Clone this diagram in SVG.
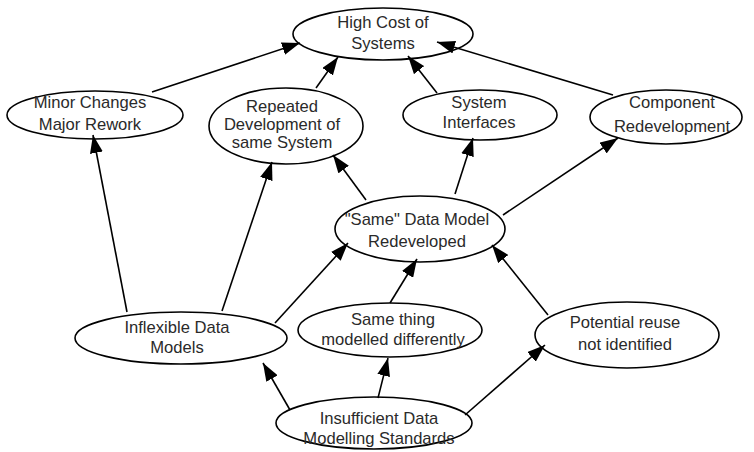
<svg xmlns="http://www.w3.org/2000/svg" width="754" height="452" viewBox="0 0 754 452">
<style>
.n ellipse{fill:#fff;stroke:#000;stroke-width:1.6}
.n text{font-family:"Liberation Sans",Arial,sans-serif;font-size:16.6px;fill:#2a2a2a;text-anchor:middle}
#edges line{stroke:#000;stroke-width:1.6;marker-end:url(#ah)}
</style>
<defs>
<marker id="ah" markerUnits="userSpaceOnUse" markerWidth="19" markerHeight="13" refX="18" refY="6.5" orient="auto">
<path d="M0,0 L18,6.5 L0,13 z" fill="#000"/>
</marker>
</defs>
<rect width="754" height="452" fill="#fff"/>
<g id="high-cost" class="n"><ellipse cx="383" cy="34" rx="90" ry="26"/><text x="383" y="28">High Cost of</text><text x="383" y="49">Systems</text></g>
<g id="minor-changes" class="n"><ellipse cx="95" cy="115" rx="88" ry="24"/><text x="90" y="108">Minor Changes</text><text x="90" y="130">Major Rework</text></g>
<g id="repeated-dev" class="n"><ellipse cx="286" cy="126" rx="77" ry="38"/><text x="282" y="112">Repeated</text><text x="282" y="130">Development of</text><text x="282" y="148">same System</text></g>
<g id="system-interfaces" class="n"><ellipse cx="480" cy="115" rx="77" ry="25"/><text x="479" y="108">System</text><text x="479" y="128">Interfaces</text></g>
<g id="component-redev" class="n"><ellipse cx="666" cy="117" rx="76" ry="27"/><text x="672" y="108">Component</text><text x="672" y="132">Redevelopment</text></g>
<g id="same-data-model" class="n"><ellipse cx="420" cy="229" rx="85" ry="33"/><text x="417" y="225">"Same" Data Model</text><text x="417" y="247">Redeveloped</text></g>
<g id="inflexible" class="n"><ellipse cx="181" cy="338" rx="106" ry="26"/><text x="177" y="333">Inflexible Data</text><text x="177" y="353">Models</text></g>
<g id="same-thing" class="n"><ellipse cx="390" cy="330" rx="92" ry="27"/><text x="393" y="325">Same thing</text><text x="393" y="345">modelled differently</text></g>
<g id="potential-reuse" class="n"><ellipse cx="627" cy="335" rx="92" ry="33"/><text x="625" y="328">Potential reuse</text><text x="625" y="350">not identified</text></g>
<g id="insufficient" class="n"><ellipse cx="374" cy="423" rx="98" ry="26"/><text x="379" y="424">Insufficient Data</text><text x="379" y="444">Modelling Standards</text></g>
<g id="edges">
<line x1="152" y1="92" x2="300" y2="43"/>
<line x1="316" y1="88" x2="338" y2="57"/>
<line x1="437" y1="93" x2="408" y2="56"/>
<line x1="613" y1="95" x2="437" y2="42"/>
<line x1="127" y1="312" x2="93" y2="135"/>
<line x1="222" y1="311" x2="272" y2="162"/>
<line x1="275" y1="323" x2="348" y2="243"/>
<line x1="366" y1="200" x2="333" y2="155"/>
<line x1="455" y1="194" x2="473" y2="138"/>
<line x1="503" y1="215" x2="618" y2="138"/>
<line x1="390" y1="303" x2="417" y2="259"/>
<line x1="548" y1="315" x2="492" y2="245"/>
<line x1="290" y1="410" x2="263" y2="363"/>
<line x1="378" y1="398" x2="388" y2="358"/>
<line x1="465" y1="415" x2="545" y2="345"/>
</g>
</svg>
